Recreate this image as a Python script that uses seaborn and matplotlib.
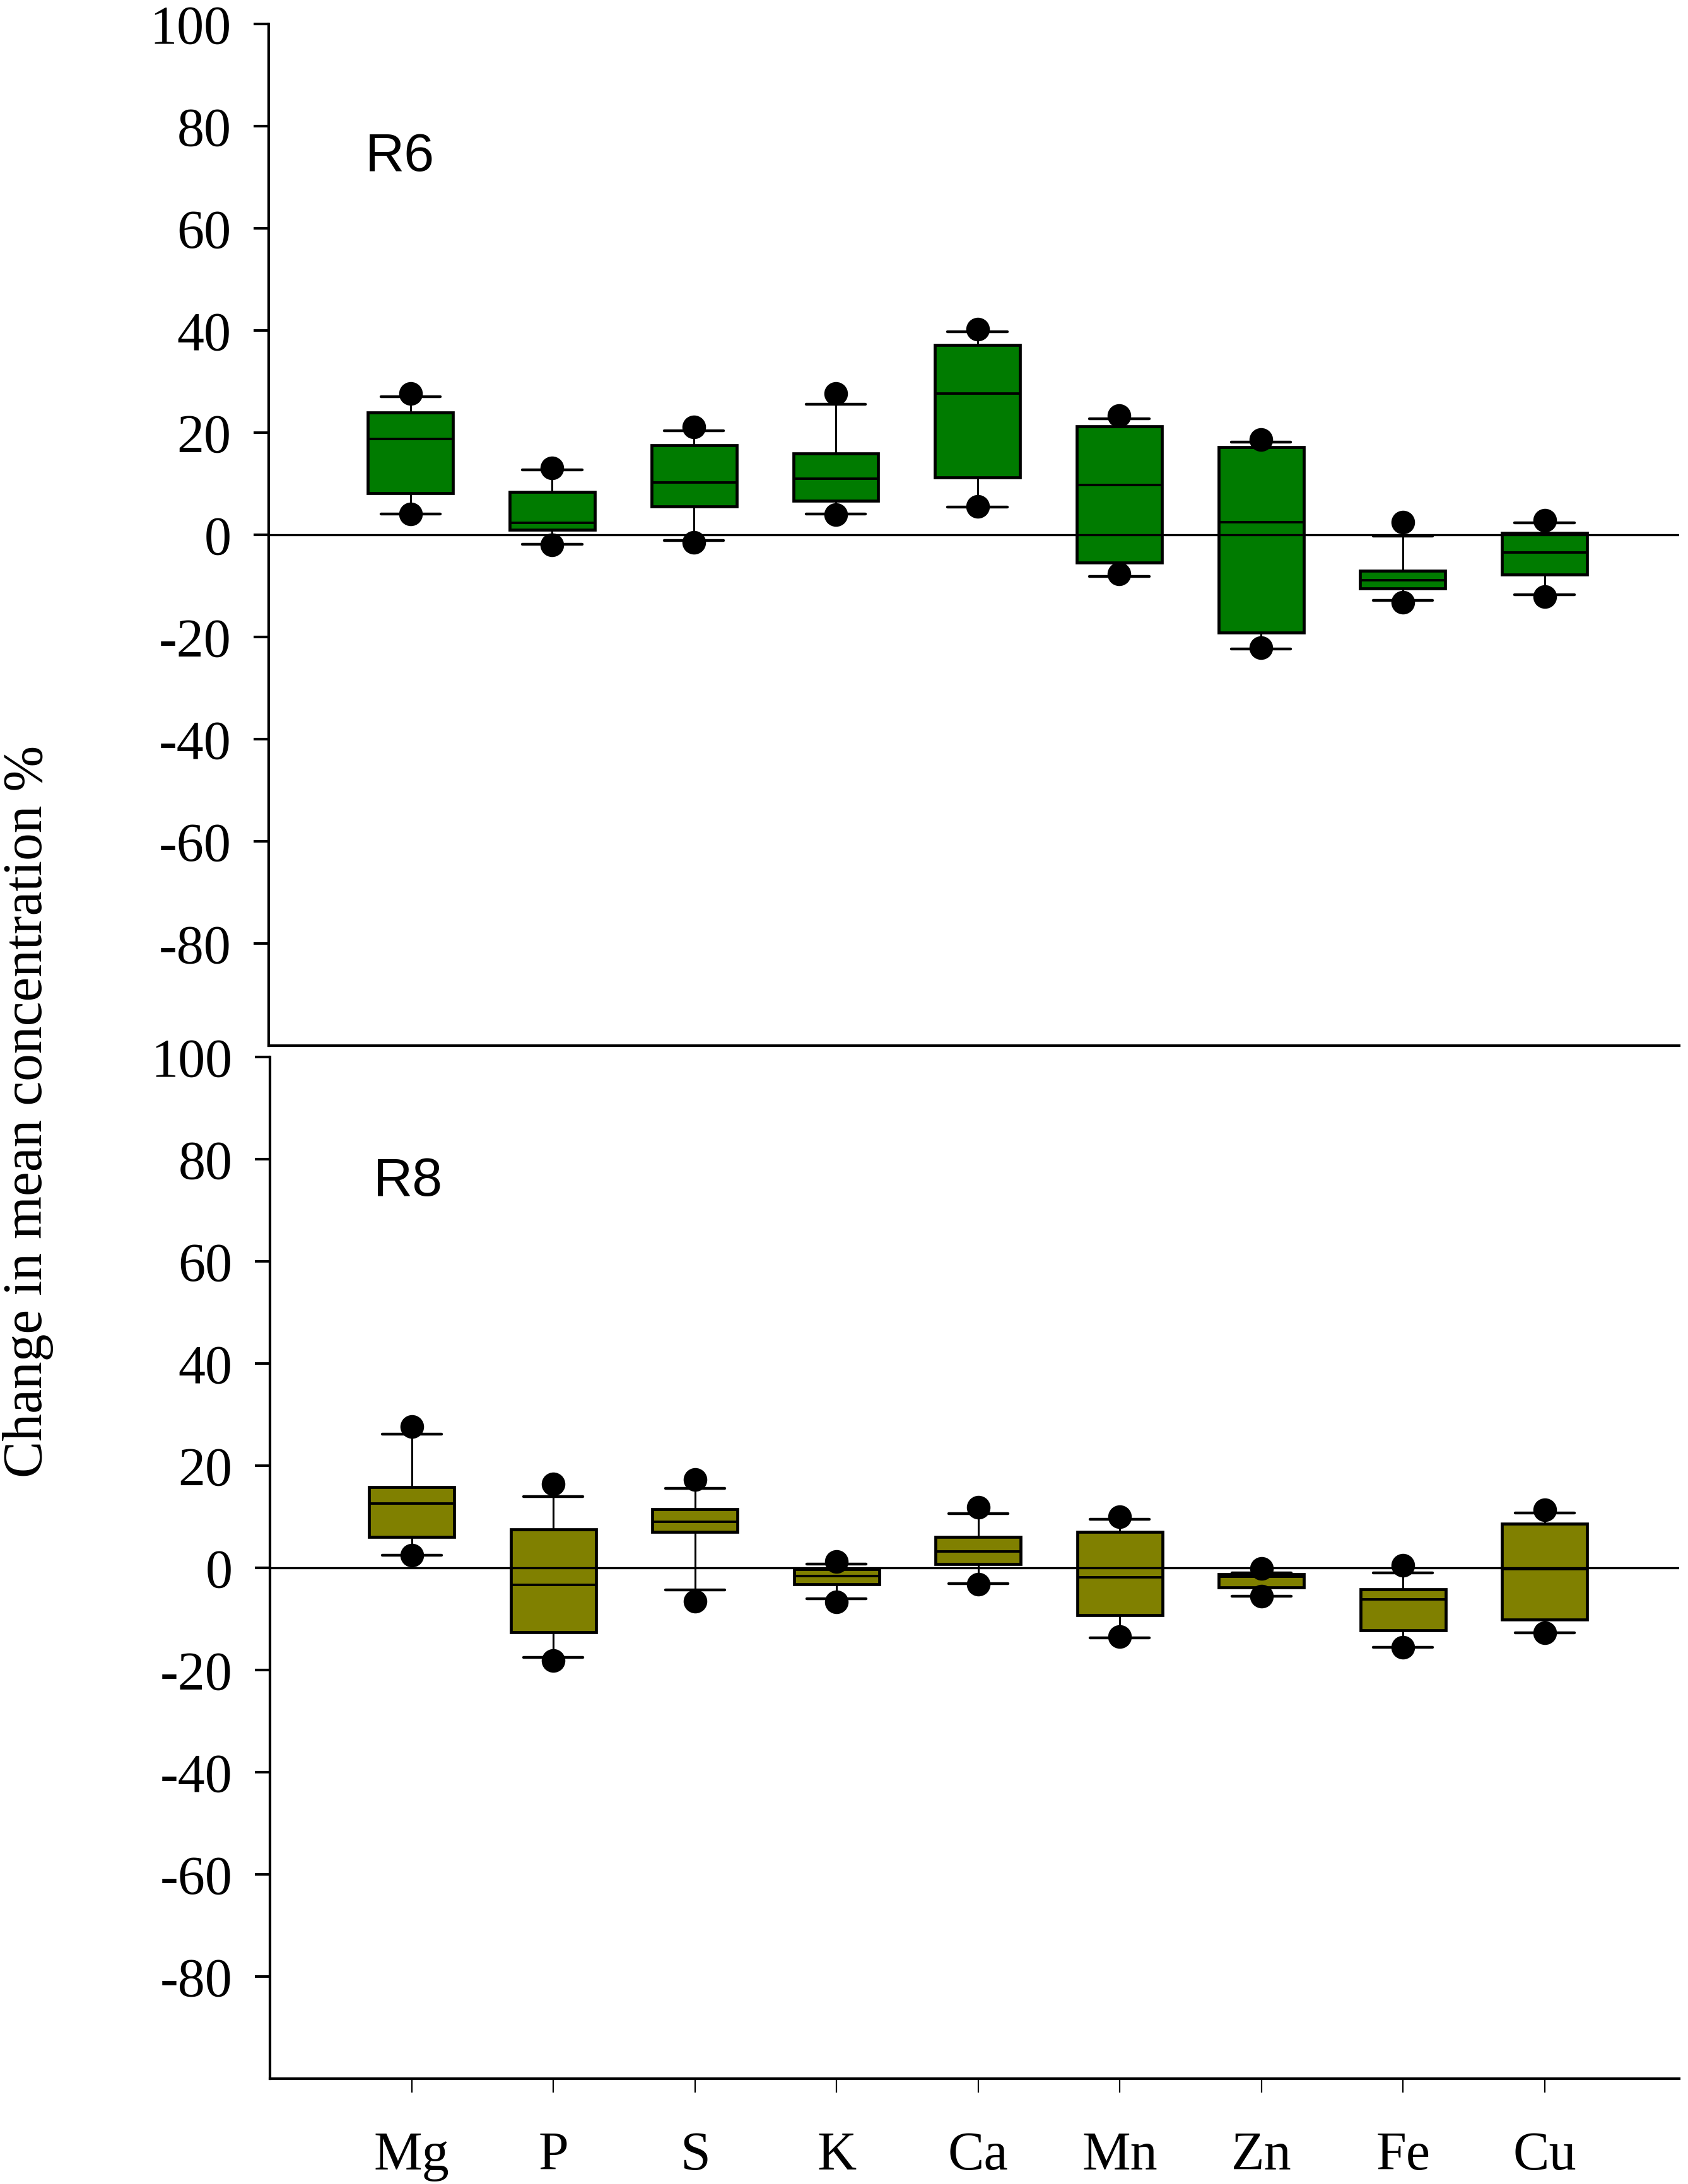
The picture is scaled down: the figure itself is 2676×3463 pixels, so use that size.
import pandas as pd
import matplotlib
matplotlib.use('Agg')
import matplotlib.pyplot as plt
import seaborn as sns

elements = ['Mg', 'P', 'S', 'K', 'Ca', 'Mn', 'Zn', 'Fe', 'Cu']

# R6 panel: whisker ends, quartiles, median, and the 5th/95th percentile dots
r6_whislo = [4.1, -1.8, -1.1, 4.1, 5.4, -8.2, -22.3, -12.8, -11.7]
r6_q1 = [8.2, 1.0, 5.5, 6.7, 11.2, -5.4, -19.1, -10.5, -7.8]
r6_med = [18.8, 2.4, 10.3, 11.0, 27.7, 9.8, 2.5, -8.9, -3.4]
r6_q3 = [23.9, 8.4, 17.5, 15.9, 37.2, 21.2, 17.1, -7.1, 0.4]
r6_whishi = [27.0, 12.7, 20.4, 25.5, 39.8, 22.7, 18.2, -0.2, 2.4]
r6_p5 = [4.1, -2.0, -1.5, 3.9, 5.6, -7.6, -22.1, -13.2, -12.1]
r6_p95 = [27.6, 13.1, 21.1, 27.7, 40.3, 23.3, 18.7, 2.5, 2.8]

# R8 panel
r8_whislo = [2.5, -17.5, -4.3, -6.1, -3.1, -13.7, -5.5, -15.6, -12.7]
r8_q1 = [6.0, -12.6, 7.1, -3.2, 0.7, -9.2, -3.8, -12.2, -10.1]
r8_med = [12.6, -3.3, 9.0, -1.6, 3.2, -1.9, -1.7, -6.2, -0.3]
r8_q3 = [15.8, 7.5, 11.5, -0.2, 6.1, 7.0, -1.2, -4.2, 8.7]
r8_whishi = [26.2, 14.0, 15.6, 0.8, 10.6, 9.5, -1.0, -1.0, 10.8]
r8_p5 = [2.5, -18.1, -6.5, -6.7, -3.2, -13.5, -5.5, -15.5, -12.7]
r8_p95 = [27.7, 16.4, 17.3, 1.2, 11.8, 10.0, -0.1, 0.5, 11.4]

yticks = [-80, -60, -40, -20, 0, 20, 40, 60, 80, 100]


def box_frame(*cols):
    rows = []
    for el, *vals in zip(elements, *cols):
        for v in vals:
            rows.append((el, v))
    return pd.DataFrame(rows, columns=['element', 'value'])


sns.set_style('ticks', {'axes.edgecolor': 'black', 'text.color': 'black',
                        'xtick.color': 'black', 'ytick.color': 'black',
                        'axes.labelcolor': 'black'})
plt.rcParams['font.family'] = ['Liberation Serif', 'DejaVu Serif']
plt.rcParams['axes.unicode_minus'] = False

fig = plt.figure(figsize=(26.76, 34.63), dpi=100)
ax1 = fig.add_axes([0.1592, 0.52123, 0.8356, 0.4678])
ax2 = fig.add_axes([0.1600, 0.04822, 0.8348, 0.4678])

panels = [
    (ax1, 'R6', '#007b00', (r6_whislo, r6_q1, r6_med, r6_q3, r6_whishi), (r6_p5, r6_p95), -0.32, 74.0),
    (ax2, 'R8', '#808000', (r8_whislo, r8_q1, r8_med, r8_q3, r8_whishi), (r8_p5, r8_p95), -0.27, 75.5),
]

for ax, name, col, stats, dots, tx, ty in panels:
    sns.boxplot(data=box_frame(*stats), x='element', y='value', order=elements,
                color=col, saturation=1, width=0.6, whis=(0, 100), ax=ax,
                linecolor='black', linewidth=3.4, capwidths=0.42,
                whiskerprops={'linewidth': 2.2}, capprops={'linewidth': 3.2},
                medianprops={'linewidth': 2.8})
    ax.axhline(0, color='black', lw=2.4, zorder=2.5)
    sns.stripplot(data=box_frame(*dots), x='element', y='value', order=elements,
                  jitter=False, color='black', size=27, linewidth=0, ax=ax, zorder=4)
    ax.set_ylim(-100, 100)
    ax.set_xlim(-1.0, 8.95)
    ax.set_yticks(yticks)
    ax.set_xlabel('')
    ax.set_ylabel('')
    ax.text(tx, ty, name, fontsize=62, color='black',
            family=['Liberation Sans', 'DejaVu Sans'], ha='left', va='center')
    for s in ['top', 'right']:
        ax.spines[s].set_visible(False)
    ax.spines['left'].set_linewidth(3.0)
    ax.spines['bottom'].set_linewidth(3.0)
    ax.spines['left'].set_bounds(-100, 100)
    ax.tick_params(axis='y', direction='out', length=17, width=3, labelsize=62,
                   pad=26, colors='black')
    ax.tick_params(axis='x', direction='out', length=16, width=1.6, labelsize=62,
                   pad=44, colors='black')

ax1.tick_params(axis='x', bottom=False, labelbottom=False)

fig.text(0.0165, 0.491, 'Change in mean concentration %', rotation=90,
         ha='center', va='center', fontsize=63, color='black')

fig.savefig('out.png', dpi=100)
